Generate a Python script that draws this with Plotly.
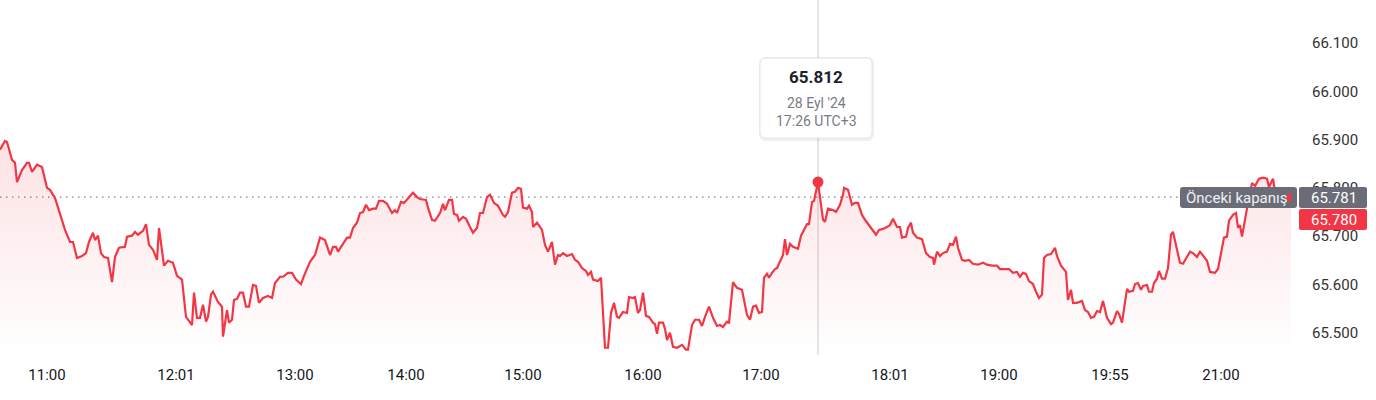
import plotly.graph_objects as go

# ---------------- data ----------------
minutes_since_open = [
    0, 2.5, 3.5, 6, 7.5, 8.5, 11, 13.5, 14.5, 16, 18.5, 21, 23.5, 25, 27.5, 30, 32.5, 35, 36.5, 38.5,
    41, 43, 44.5, 46.5, 47.5, 49, 50.5, 52, 54, 56, 57.5, 59.5, 62.5, 63.5, 66, 67.5, 69, 71.5, 73, 74.5,
    76.5, 78.5, 79.5, 82, 84, 86.5, 88.5, 91, 93, 96, 97, 98.5, 100, 101.5, 103, 104, 105.5, 106.5, 109, 111,
    111.5, 113.5, 114.5, 116, 117, 118.5, 120, 121.5, 123, 124.5, 126.5, 128, 129.5,
    131.5, 134, 136, 137.5, 140, 141.5, 144, 146, 148, 150.5, 152, 155, 157.5, 160, 162.5,
    165, 166.5, 168, 169, 171, 173.5, 175, 176.5, 178.5, 180, 181.5, 183, 184.5, 186.5, 188,
    189.5, 191.5, 193.5, 196, 197.5, 198.5, 200.5, 202, 204, 206.5, 208.5, 210, 213, 214, 216,
    217.5, 220, 221.5, 222.5, 224.5, 226, 227, 228.5, 229.5, 231.5, 233, 235, 236.5, 238.5, 240,
    241.5, 243.5, 245, 247, 249, 251.5, 252.5,
    254, 256, 257.5, 259, 260.5, 261.5, 263.5, 264.5, 266, 266.5, 268.5, 271, 272.5, 274, 276,
    277.5, 279, 280, 281.5, 283.5, 286, 287.5, 289, 291, 293, 294, 295.5, 296.5, 299, 300.5,
    302.5, 304, 305.5, 307, 308.5, 309.5, 311.5, 313.5, 314.5, 316.5, 317.5, 319, 320, 321.5, 323,
    324.5, 326.5, 327.5, 328.5, 329.5, 331.5, 332.5, 333.5, 335, 336.5, 338.5, 341, 343, 344, 346,
    347.5, 349.5, 351, 352.5, 354.5, 356.5, 358.5, 360, 361.5, 363.5, 364.5, 366.5, 368.5, 371, 373.5,
    375, 376.5, 378, 379.5,
    381, 382, 383.5, 384.5, 386, 387.5, 388.5, 390.5, 391.5, 392.5, 393.5, 395, 396.5, 399, 400.5,
    402, 403.5, 404.5, 406, 407, 409, 410.5, 411.5, 412.5, 414, 416.5, 418, 420, 421.5, 422,
    424, 426, 427.5, 429, 431, 432.5, 434.5, 436.5, 438, 439.5, 441.5, 443.5, 445, 446.5, 448.5,
    450, 451, 453, 454, 455.5, 456.5, 458.5, 461, 463, 465, 466.5, 467, 468.5, 470, 471.5,
    473.5, 475, 476.5, 478, 479, 481, 482.5, 484.5, 486.5, 489, 491.5, 493.5, 496, 498.5, 500,
    504.5, 506.5, 508.5, 510, 511.5, 513, 514.5, 516.5, 518, 519.5, 521, 522, 523.5, 525.5, 527.5,
    528.5, 530.5, 533, 534, 535.5, 536.5, 538.5, 541, 542.5, 544, 545.5, 547, 548.5, 550, 551.5,
    553.5, 555.5, 556.5, 558.5, 559.5, 561, 563.5, 564.5, 566.5, 567.5, 569, 570.5, 571.5, 573.5, 574.5,
    576, 577, 578.5, 579.5, 581, 582.5, 584, 585.5, 586.5, 588.5, 590, 591.5, 593.5, 595, 596.5,
    598.5, 600, 601.5, 603.5, 605, 607.5, 609, 611, 612, 613.5, 614.5, 616.5, 618, 619, 620,
    621, 622.5, 624, 626, 627.5, 629.5, 631.5, 633.5, 634.5, 636.5, 637.5, 641, 645.5,
]

prices = [
    65.879, 65.897, 65.895, 65.858, 65.852, 65.812, 65.837, 65.852, 65.852, 65.833, 65.848, 65.843, 65.800, 65.796, 65.779,
    65.744, 65.713, 65.688, 65.688, 65.655, 65.659, 65.665, 65.688, 65.707, 65.692, 65.701, 65.665, 65.657, 65.655, 65.605,
    65.657, 65.676, 65.678, 65.699, 65.701, 65.709, 65.703, 65.711, 65.725, 65.682, 65.672, 65.651, 65.717, 65.639, 65.649,
    65.645, 65.618, 65.610, 65.533, 65.516, 65.583, 65.531, 65.531, 65.558, 65.523, 65.533, 65.579, 65.585, 65.564, 65.554,
    65.492, 65.547, 65.521, 65.527, 65.568, 65.570, 65.583, 65.583, 65.554, 65.554, 65.599, 65.597, 65.562,
    65.572, 65.576, 65.572, 65.603, 65.616, 65.616, 65.624, 65.624, 65.610, 65.601, 65.618, 65.647, 65.661, 65.697, 65.692,
    65.661, 65.678, 65.678, 65.668, 65.682, 65.697, 65.697, 65.717, 65.728, 65.748, 65.750, 65.765, 65.754, 65.757, 65.757,
    65.773, 65.773, 65.767, 65.748, 65.754, 65.748, 65.771, 65.769, 65.779, 65.790, 65.781, 65.777, 65.775, 65.759, 65.734,
    65.732, 65.748, 65.767, 65.754, 65.775, 65.775, 65.746, 65.744, 65.732, 65.740, 65.736, 65.719, 65.707, 65.717, 65.748,
    65.748, 65.781, 65.786, 65.769, 65.763, 65.744, 65.740,
    65.750, 65.790, 65.792, 65.800, 65.798, 65.759, 65.757, 65.763, 65.750, 65.719, 65.728, 65.713, 65.682, 65.668, 65.688,
    65.641, 65.661, 65.659, 65.665, 65.659, 65.663, 65.651, 65.647, 65.634, 65.628, 65.620, 65.626, 65.610, 65.607, 65.614,
    65.469, 65.469, 65.541, 65.562, 65.533, 65.531, 65.543, 65.541, 65.574, 65.572, 65.574, 65.541, 65.547, 65.583, 65.535,
    65.533, 65.521, 65.518, 65.498, 65.521, 65.521, 65.508, 65.485, 65.500, 65.471, 65.469, 65.475, 65.465, 65.465, 65.516,
    65.527, 65.527, 65.514, 65.533, 65.554, 65.531, 65.514, 65.516, 65.512, 65.523, 65.521, 65.605, 65.593, 65.589, 65.537,
    65.527, 65.554, 65.556, 65.541,
    65.543, 65.614, 65.622, 65.614, 65.624, 65.632, 65.634, 65.653, 65.661, 65.694, 65.661, 65.684, 65.678, 65.674, 65.701,
    65.713, 65.725, 65.725, 65.771, 65.773, 65.812, 65.765, 65.734, 65.730, 65.757, 65.754, 65.750, 65.765, 65.786, 65.800,
    65.796, 65.765, 65.769, 65.769, 65.744, 65.734, 65.723, 65.713, 65.703, 65.713, 65.715, 65.719, 65.723, 65.736, 65.719,
    65.719, 65.697, 65.699, 65.717, 65.728, 65.707, 65.697, 65.694, 65.665, 65.657, 65.655, 65.641, 65.668, 65.659, 65.665,
    65.668, 65.684, 65.682, 65.699, 65.676, 65.651, 65.649, 65.651, 65.643, 65.641, 65.645, 65.641, 65.639, 65.639, 65.632,
    65.632, 65.624, 65.626, 65.616, 65.624, 65.622, 65.607, 65.601, 65.585, 65.572, 65.579, 65.655, 65.661, 65.663, 65.676,
    65.659, 65.639, 65.626, 65.568, 65.589, 65.562, 65.562, 65.566, 65.547, 65.543, 65.531, 65.533, 65.545, 65.543, 65.566,
    65.531, 65.518, 65.521, 65.545, 65.539, 65.521, 65.591, 65.585, 65.587, 65.601, 65.603, 65.589, 65.597, 65.599, 65.585,
    65.585, 65.603, 65.612, 65.628, 65.612, 65.612, 65.634, 65.703, 65.709, 65.672, 65.645, 65.643, 65.659, 65.668, 65.665,
    65.657, 65.668, 65.659, 65.649, 65.626, 65.624, 65.632, 65.672, 65.697, 65.699, 65.732, 65.744, 65.748, 65.717, 65.723,
    65.699, 65.738, 65.769, 65.810, 65.804, 65.819, 65.821, 65.819, 65.802, 65.819, 65.792, 65.786, 65.780,
]

assert len(minutes_since_open) == len(prices), (len(minutes_since_open), len(prices))

x_tick_positions = [23.5, 88, 147.5, 203, 261.5, 321.5, 380.5, 445, 499.5, 555, 610.5]
x_tick_labels = ["11:00", "12:01", "13:00", "14:00", "15:00", "16:00", "17:00", "18:01", "19:00", "19:55", "21:00"]
y_tick_values = [65.5, 65.6, 65.7, 65.8, 65.9, 66.0, 66.1]

previous_close = 65.781
last_price = prices[-1]
hover_minute = 409
hover_price = 65.812
hover_date = "28 Eyl '24"
hover_time = "17:26 UTC+3"

# ---------------- styling / layout ----------------
W, H = 1376, 400
M_L, M_R, M_T, M_B = 0, 85, 0, 45
PW, PH = W - M_L - M_R, H - M_T - M_B
RED = "#f23645"
GRAY_BOX = "#6a6d78"
FONT = "Roboto, Arial, sans-serif"


def px(xp):
    return (xp - M_L) / PW


def py(yp):
    return (PH + M_T - yp) / PH


def rounded_rect(x0, y0, x1, y1, r):
    """pixel rect -> paper-space SVG path with rounded corners"""
    rx, ry = r / PW, r / PH
    X0, X1 = px(x0), px(x1)
    Y0, Y1 = py(y1), py(y0)  # bottom, top in paper
    return (f"M{X0+rx},{Y1} L{X1-rx},{Y1} Q{X1},{Y1} {X1},{Y1-ry} "
            f"L{X1},{Y0+ry} Q{X1},{Y0} {X1-rx},{Y0} L{X0+rx},{Y0} "
            f"Q{X0},{Y0} {X0},{Y0+ry} L{X0},{Y1-ry} Q{X0},{Y1} {X0+rx},{Y1} Z")


fig = go.Figure()

fig.add_trace(go.Scatter(
    x=minutes_since_open, y=prices, mode="lines",
    line=dict(color=RED, width=2.2),
    fill="tozeroy",
    fillgradient=dict(type="vertical", start=65.454, stop=65.90,
                      colorscale=[[0, "rgba(242,54,69,0.0)"], [1, "rgba(242,54,69,0.15)"]]),
    hoverinfo="skip", showlegend=False,
))

fig.add_trace(go.Scatter(
    x=[hover_minute], y=[hover_price], mode="markers",
    marker=dict(color=RED, size=11), cliponaxis=False,
    hoverinfo="skip", showlegend=False,
))

shapes = []
# vertical crosshair
shapes.append(dict(type="line", xref="x", yref="paper", x0=hover_minute, x1=hover_minute, y0=0, y1=1,
                   line=dict(color="#c9cbd1", width=1), layer="below"))
# previous close dotted line
shapes.append(dict(type="line", xref="paper", yref="y", x0=0, x1=px(1180), y0=previous_close, y1=previous_close,
                   line=dict(color="#7f828c", width=1.2, dash="1.5px,4.5px"), layer="below"))
# tooltip shadow + box
shapes.append(dict(type="path", xref="paper", yref="paper", path=rounded_rect(759, 57, 874, 141, 7),
                   fillcolor="rgba(0,0,0,0.06)", line=dict(width=0), layer="above"))
shapes.append(dict(type="path", xref="paper", yref="paper", path=rounded_rect(760, 58, 872, 138, 6),
                   fillcolor="white", line=dict(color="#e3e5ea", width=1), layer="above"))
# previous close label boxes
shapes.append(dict(type="path", xref="paper", yref="paper", path=rounded_rect(1180, 187, 1297, 208, 3),
                   fillcolor=GRAY_BOX, line=dict(width=0), layer="above"))
shapes.append(dict(type="path", xref="paper", yref="paper", path=rounded_rect(1299, 187, 1367, 208, 2),
                   fillcolor=GRAY_BOX, line=dict(width=0), layer="above"))
shapes.append(dict(type="path", xref="paper", yref="paper", path=rounded_rect(1299, 209, 1367, 230, 2),
                   fillcolor=RED, line=dict(width=0), layer="above"))
# last price dot
shapes.append(dict(type="circle", xref="x", yref="y", xsizemode="pixel", ysizemode="pixel",
                   xanchor=minutes_since_open[-1], yanchor=last_price, x0=-4.5, x1=4.5, y0=-4.5, y1=4.5,
                   fillcolor=RED, line=dict(width=0), layer="above"))

annotations = [
    dict(xref="paper", yref="paper", x=px(816), y=py(77), text=f"<b>{hover_price:.3f}</b>", showarrow=False,
         font=dict(family=FONT, size=17, color="#1e222d"), xanchor="center", yanchor="middle"),
    dict(xref="paper", yref="paper", x=px(816), y=py(103), text=hover_date, showarrow=False,
         font=dict(family=FONT, size=14, color="#787b86"), xanchor="center", yanchor="middle"),
    dict(xref="paper", yref="paper", x=px(816), y=py(121), text=hover_time, showarrow=False,
         font=dict(family=FONT, size=14, color="#787b86"), xanchor="center", yanchor="middle"),
    dict(xref="paper", yref="paper", x=px(1236), y=py(198), text="Önceki kapanış", showarrow=False,
         font=dict(family=FONT, size=15, color="#f0f1f4"), xanchor="center", yanchor="middle"),
    dict(xref="paper", yref="paper", x=px(1334), y=py(198), text=f"{previous_close:.3f}", showarrow=False,
         font=dict(family=FONT, size=15, color="white"), xanchor="center", yanchor="middle"),
    dict(xref="paper", yref="paper", x=px(1334), y=py(220), text=f"{last_price:.3f}", showarrow=False,
         font=dict(family=FONT, size=15, color="white"), xanchor="center", yanchor="middle"),
    # partially visible top tick label
    dict(xref="paper", yref="paper", x=px(1312), y=py(-5), text="66.200", showarrow=False,
         font=dict(family=FONT, size=15, color="#333333"), xanchor="left", yanchor="middle"),
]

fig.update_layout(
    width=W, height=H,
    margin=dict(l=M_L, r=M_R, t=M_T, b=M_B),
    plot_bgcolor="white", paper_bgcolor="white",
    shapes=shapes, annotations=annotations,
    xaxis=dict(range=[0, 645.5], showgrid=False, zeroline=False, showline=False,
               tickvals=x_tick_positions, ticktext=x_tick_labels, ticks="",
               ticklabelstandoff=9,
               tickfont=dict(family=FONT, size=15, color="#131722")),
    yaxis=dict(range=[65.454, 66.189], side="right", showgrid=False, zeroline=False, showline=False,
               tickvals=y_tick_values, tickformat=".3f", ticks="", ticklabelstandoff=20,
               tickfont=dict(family=FONT, size=15, color="#333333")),
    hovermode=False,
)

fig.write_html("out.html", config={"displayModeBar": False},
               post_script="document.body.style.margin='0';document.body.style.overflow='hidden';")
